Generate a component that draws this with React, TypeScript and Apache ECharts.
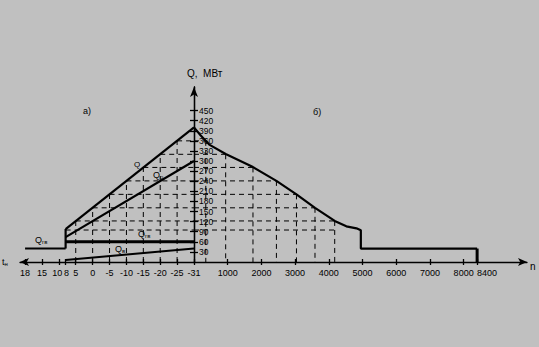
import React, { useEffect, useRef } from "react";
import * as echarts from "echarts";

// ---- axis ticks ----
// outdoor temperature ticks (left part, schematic non-linear scale)
const tempTicks = [18, 15, 10, 8, 5, 0, -5, -10, -15, -20, -25, -31];
const tempTickScale = [0, 1, 2, 2.4, 3, 4, 5, 6, 7, 8, 9, 10];
// duration in hours (right part)
const hourTicks = [1000, 2000, 3000, 4000, 5000, 6000, 7000, 8000, 8400];
// heat load, MW
const qTicks = [30, 60, 90, 120, 150, 180, 210, 240, 270, 300, 330, 360, 390, 420, 450];

// ---- left part: loads vs outdoor temperature [t, Q] ----
const qTotal = [[8, 98], [-31, 400]];
const qHeating = [[8, 74], [-31, 300]];
const qHotWaterWinter = [[8, 60], [-31, 60]];
const qVentilation = [[8, 6], [-31, 40]];
const qHotWaterSummer = [[18, 40], [8, 40]];
const heatingStartStep = [[8, 40], [8, 98]];

// ---- right part: load duration curve [hours, Q] ----
const durationHours = [0, 200, 466, 940, 1750, 2445, 3040, 3590, 4175, 4520, 4820, 4950, 4950, 8400];
const durationQ = [400, 376, 348, 321, 282, 241, 201, 161, 122, 106, 100, 94, 40, 40];
const summerEnd = [[8400, 40], [8400, 0]];

// ---- construction (dashed) lines ----
const gridTemps = [5, 0, -5, -10, -15, -20, -25];
const gridQ = [122, 161, 201, 241, 281, 320, 360];
const gridHours = [4175, 3590, 3040, 2445, 1750, 940, 350];
const startLevelQ = 95; // level at heating start (t = 8)
const startLevelHours = 4175;

function tPos(t: number): number {
  for (let i = 0; i < tempTicks.length - 1; i++) {
    const a = tempTicks[i], b = tempTicks[i + 1];
    if (t <= a && t >= b) {
      const f = (a - t) / (a - b);
      return tempTickScale[i] + f * (tempTickScale[i + 1] - tempTickScale[i]);
    }
  }
  return t > tempTicks[0] ? tempTickScale[0] : tempTickScale[tempTickScale.length - 1];
}

const BLACK = "#000";
const FONT = "'Liberation Sans', Arial, sans-serif";

export default function App() {
  const ref = useRef<HTMLDivElement>(null);
  useEffect(() => {
    if (!ref.current) return;
    const chart = echarts.init(ref.current, null, { renderer: "svg" });

    const leftLine = (pts: number[][], width: number, dashed = false) => ({
      type: "line",
      xAxisIndex: 0,
      yAxisIndex: 0,
      symbol: "none",
      silent: true,
      clip: false,
      data: pts.map(([t, q]) => [tPos(t), q]),
      lineStyle: { color: BLACK, width, type: dashed ? [5, 4] : "solid" },
    });
    const rightLine = (pts: number[][], width: number, dashed = false) => ({
      type: "line",
      xAxisIndex: 2,
      yAxisIndex: 1,
      symbol: "none",
      silent: true,
      clip: false,
      data: pts,
      lineStyle: { color: BLACK, width, type: dashed ? [5, 4] : "solid" },
    });

    const series: any[] = [
      leftLine(qTotal, 2.2),
      leftLine(qHeating, 2.2),
      leftLine(qHotWaterWinter, 3),
      leftLine(qVentilation, 2),
      leftLine(qHotWaterSummer, 2),
      leftLine(heatingStartStep, 2.2),
      rightLine(durationHours.map((h, i) => [h, durationQ[i]]), 2.2),
      rightLine(summerEnd, 3),
    ];

    gridTemps.forEach((t, i) => {
      series.push(leftLine([[t, 0], [t, gridQ[i]]], 1, true));
      series.push(leftLine([[t, gridQ[i]], [-31, gridQ[i]]], 1, true));
      series.push(rightLine([[0, gridQ[i]], [gridHours[i], gridQ[i]]], 1, true));
      series.push(rightLine([[gridHours[i], gridQ[i]], [gridHours[i], 0]], 1, true));
    });
    series.push(leftLine([[8, startLevelQ], [-31, startLevelQ]], 1, true));
    series.push(rightLine([[0, startLevelQ], [startLevelHours, startLevelQ]], 1, true));

    const axisLineStyle = { color: BLACK, width: 1.3 };
    const labelStyle = { color: BLACK, fontFamily: FONT };

    const txt = (x: number, y: number, text: string, size = 9, rich?: any) => ({
      type: "text",
      x,
      y,
      silent: true,
      style: {
        text,
        fill: BLACK,
        fontSize: size,
        fontFamily: FONT,
        textVerticalAlign: "middle",
        rich,
      },
    });
    const subRich = {
      q: { fontSize: 9, fontFamily: FONT, fill: BLACK },
      s: { fontSize: 6, fontFamily: FONT, fill: BLACK, padding: [4, 0, 0, 0] },
    };

    chart.setOption({
      animation: false,
      backgroundColor: "#c0c0c0",
      grid: [
        { left: 20, top: 87, width: 174, height: 175 },
        { left: 194, top: 87, width: 333, height: 175 },
      ],
      xAxis: [
        {
          gridIndex: 0,
          type: "value",
          position: "bottom",
          min: -0.3,
          max: 10,
          axisLine: { show: true, onZero: false, symbol: ["arrow", "none"], symbolSize: [6, 9], lineStyle: axisLineStyle },
          axisTick: { show: true, length: 3, customValues: tempTickScale, lineStyle: axisLineStyle },
          axisLabel: {
            ...labelStyle,
            fontSize: 9,
            margin: 6,
            hideOverlap: false,
            customValues: tempTickScale,
            formatter: (v: number) => {
              const i = tempTickScale.findIndex((p) => Math.abs(p - v) < 1e-6);
              if (i < 0) return "";
              const s = String(tempTicks[i]);
              if (tempTicks[i] === 10) return "{l|" + s + "}";
              if (tempTicks[i] === 8) return "{r|" + s + "}";
              return s;
            },
            rich: {
              l: { fontSize: 9, fontFamily: FONT, color: BLACK, padding: [0, 3, 0, 0] },
              r: { fontSize: 9, fontFamily: FONT, color: BLACK, padding: [0, 0, 0, 2] },
            },
          },
          splitLine: { show: false },
        },
        {
          gridIndex: 0,
          type: "value",
          position: "bottom",
          offset: 0,
          min: -0.3,
          max: 10,
          axisLine: { show: false, onZero: false },
          axisTick: { show: true, inside: true, length: 3, customValues: tempTickScale, lineStyle: axisLineStyle },
          axisLabel: { show: false },
          splitLine: { show: false },
        },
        {
          gridIndex: 1,
          type: "value",
          position: "bottom",
          min: 0,
          max: 9880,
          axisLine: { show: true, onZero: false, symbol: ["none", "arrow"], symbolSize: [6, 9], lineStyle: axisLineStyle },
          axisTick: { show: true, length: 3, customValues: hourTicks, lineStyle: axisLineStyle },
          axisLabel: {
            ...labelStyle,
            fontSize: 9,
            margin: 6,
            hideOverlap: false,
            customValues: hourTicks,
            formatter: (v: number) => (v === 8400 ? "{r|" + v + "}" : String(v)),
            rich: { r: { fontSize: 9, fontFamily: FONT, color: BLACK, padding: [0, 0, 0, 20] } },
          },
          splitLine: { show: false },
        },
        {
          gridIndex: 1,
          type: "value",
          position: "bottom",
          offset: 0,
          min: 0,
          max: 9880,
          axisLine: { show: false, onZero: false },
          axisTick: { show: true, inside: true, length: 3, customValues: hourTicks, lineStyle: axisLineStyle },
          axisLabel: { show: false },
          splitLine: { show: false },
        },
      ],
      yAxis: [
        {
          gridIndex: 0,
          type: "value",
          position: "right",
          min: 0,
          max: 520,
          axisLine: { show: true, onZero: false, lineStyle: axisLineStyle },
          axisTick: { show: true, inside: true, length: 4, customValues: qTicks, lineStyle: axisLineStyle },
          axisLabel: { show: false },
          splitLine: { show: false },
        },
        {
          gridIndex: 1,
          type: "value",
          position: "left",
          min: 0,
          max: 520,
          axisLine: { show: true, onZero: false, symbol: ["none", "arrow"], symbolSize: [6, 10], lineStyle: axisLineStyle },
          axisTick: { show: true, inside: true, length: 4, customValues: qTicks, lineStyle: axisLineStyle },
          axisLabel: { ...labelStyle, inside: true, fontSize: 8.5, margin: 5, hideOverlap: false, customValues: qTicks },
          splitLine: { show: false },
        },
      ],
      series,
      graphic: [
        txt(187, 73, "Q,  МВт", 10),
        txt(83, 111, "а)", 9),
        txt(313, 112, "б)", 9),
        txt(530, 266, "n", 10),
        txt(2, 262, "{q|t}{s|н}", 10, subRich),
        txt(134, 164, "Q", 8),
        txt(153, 175, "{q|Q}{s|о}", 9, subRich),
        txt(138, 234, "{q|Q}{s|гв}", 9, subRich),
        txt(115, 249, "{q|Q}{s|в}", 9, subRich),
        txt(35, 240, "{q|Q}{s|гв}", 9, subRich),
      ],
    });
    return () => chart.dispose();
  }, []);

  return (
    <div
      ref={ref}
      style={{ position: "fixed", left: 0, top: 0, width: 539, height: 347, background: "#c0c0c0" }}
    />
  );
}
